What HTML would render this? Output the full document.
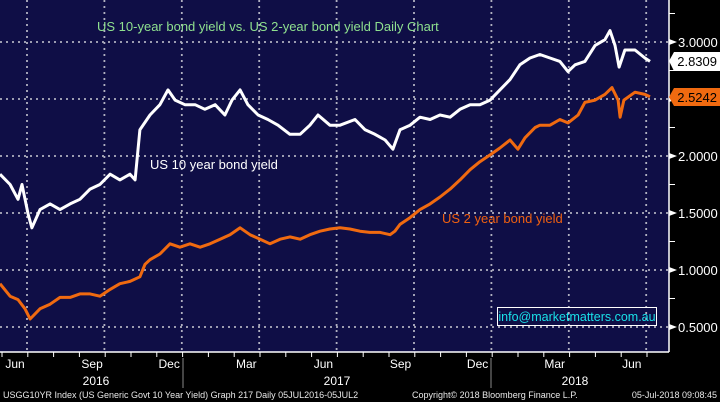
<!DOCTYPE html>
<html><head><meta charset="utf-8"><style>
html,body{margin:0;padding:0;background:#000;}
svg{display:block;font-family:"Liberation Sans",sans-serif;}
</style></head><body>
<svg id="chart" width="720" height="402" viewBox="0 0 720 402" xmlns="http://www.w3.org/2000/svg">
<rect x="0" y="0" width="720" height="402" fill="#000"/>
<rect x="0" y="0" width="669" height="352" fill="#0f0e46"/>
<g id="grid"></g>
<g id="series"></g>
<line x1="669" y1="0" x2="669" y2="352" stroke="#fff" stroke-width="1.5"/>
<line x1="0" y1="352" x2="669" y2="352" stroke="#fff" stroke-width="1.5"/>
<g id="axes"></g>
<text x="97" y="31" fill="#8fe08f" font-size="13">US 10-year bond yield vs. US 2-year bond yield Daily Chart</text>
<text x="150" y="169" fill="#fff" font-size="13">US 10 year bond yield</text>
<text x="442" y="223" fill="#f06010" font-size="13">US 2 year bond yield</text>
<g>
<rect x="497.5" y="307.5" width="159" height="18" fill="none" stroke="#fff" stroke-width="1"/>
<text x="577" y="321" text-anchor="middle" fill="#19e0e8" font-size="12.5">info@marketmatters.com.au</text>
</g>
<g>
<polygon points="669,61 674,52 720,52 720,71 674,71" fill="#fff"/>
<text x="717" y="66" text-anchor="end" fill="#000" font-size="13">2.8309</text>
</g>
<g>
<polygon points="669,97 674,88 720,88 720,106 674,106" fill="#f06a10"/>
<text x="717" y="102" text-anchor="end" fill="#000" font-size="13">2.5242</text>
</g>
<text x="3" y="398" fill="#e8e8e8" font-size="9">USGG10YR Index (US Generic Govt 10 Year Yield) Graph 217  Daily 05JUL2016-05JUL2</text>
<text x="412" y="398" fill="#e8e8e8" font-size="9">Copyright© 2018 Bloomberg Finance L.P.</text>
<text x="717" y="398" text-anchor="end" fill="#e8e8e8" font-size="9">05-Jul-2018 09:08:45</text>
</svg>
<script>
// months since mid-May 2016
const months10 = [0,.4,.71,.87,1.11,1.26,1.58,1.98,2.37,2.77,3.16,3.56,3.95,4.35,4.74,5.14,5.34,5.53,5.93,6.32,6.64,6.92,7.31,7.71,8.10,8.50,8.89,9.17,9.49,9.80,10.2,10.59,10.99,11.46,11.86,12.25,12.57,13.04,13.44,14.03,14.43,14.82,15.22,15.53,15.81,16.21,16.6,17.0,17.39,17.79,18.18,18.58,18.97,19.37,19.76,20.16,20.55,20.95,21.34,21.74,22.13,22.45,22.73,23.12,23.52,23.91,24.11,24.31,24.47,24.7,25.1,25.49,25.69];
const yield10 = [1.84,1.75,1.62,1.75,1.49,1.37,1.53,1.58,1.53,1.58,1.62,1.71,1.75,1.84,1.79,1.84,1.79,2.23,2.36,2.45,2.58,2.49,2.45,2.45,2.41,2.45,2.36,2.49,2.58,2.45,2.36,2.32,2.27,2.19,2.19,2.27,2.36,2.27,2.27,2.32,2.23,2.19,2.14,2.06,2.23,2.27,2.34,2.32,2.36,2.34,2.41,2.45,2.45,2.49,2.58,2.67,2.80,2.86,2.89,2.86,2.83,2.74,2.80,2.83,2.97,3.02,3.10,2.97,2.78,2.93,2.93,2.86,2.83];
const months2 = [0,.4,.71,.99,1.19,1.58,1.98,2.37,2.77,3.16,3.56,3.95,4.35,4.74,5.14,5.53,5.73,5.93,6.32,6.72,7.11,7.51,7.91,8.30,8.70,9.09,9.49,9.88,10.28,10.67,11.07,11.46,11.86,12.25,12.65,13.04,13.44,13.83,14.23,14.62,15.02,15.42,15.61,15.81,16.21,16.6,17.0,17.39,17.79,18.18,18.58,18.97,19.37,19.76,20.16,20.47,20.75,21.15,21.34,21.74,22.13,22.45,22.85,23.12,23.52,23.91,24.19,24.43,24.51,24.66,25.1,25.49,25.69];
const yield2 = [0.88,0.77,0.74,0.66,0.57,0.66,0.70,0.76,0.76,0.79,0.79,0.77,0.83,0.88,0.90,0.94,1.05,1.09,1.14,1.23,1.20,1.23,1.20,1.23,1.27,1.31,1.37,1.31,1.27,1.23,1.27,1.29,1.27,1.31,1.34,1.36,1.37,1.36,1.34,1.33,1.33,1.31,1.34,1.40,1.46,1.53,1.58,1.64,1.71,1.79,1.88,1.95,2.01,2.07,2.14,2.06,2.16,2.25,2.27,2.27,2.32,2.29,2.36,2.47,2.49,2.54,2.60,2.49,2.34,2.49,2.56,2.54,2.52];
const yTicks = [0.5,1.0,1.5,2.0,2.5,3.0];
const yMinor = [0.75,1.25,1.75,2.25,2.75,3.25];
const monthLabels = ["Jun","Sep","Dec","Mar","Jun","Sep","Dec","Mar","Jun"];
const yearLabels = ["2016","2017","2018"];

const NS="http://www.w3.org/2000/svg";
function xScale(m){return m*25.3;}
function yScale(v){return 327-(v-0.5)*114;}
function mk(tag,attrs,parent){const e=document.createElementNS(NS,tag);for(const k in attrs)e.setAttribute(k,attrs[k]);parent.appendChild(e);return e;}
const grid=document.getElementById('grid'), axes=document.getElementById('axes'), series=document.getElementById('series');

yTicks.forEach(v=>{
  const y=yScale(v);
  const g=mk('line',{x1:0,x2:669,y1:y,y2:y,stroke:'#b0b0c0','stroke-width':1.8,'stroke-dasharray':'2 4'},grid);
  
  
  const t=mk('polygon',{points:`669,${y-3} 677,${y} 669,${y+3}`,fill:'#fff'},axes);
  
  
  const tx=mk('text',{x:678,y:y+5,fill:'#fff','font-size':13},axes);
  tx.textContent=v.toFixed(4);
  
  
});
yMinor.forEach(v=>{
  const y=yScale(v);
  const t=mk('line',{x1:669,x2:675,y1:y,y2:y,stroke:'#fff','stroke-width':1},axes);
  
  
});
monthLabels.forEach((m,i)=>{
  const xg=27+i*77.4;
  const g=mk('line',{x1:xg,x2:xg,y1:0,y2:352,stroke:'#b0b0c0','stroke-width':1.8,'stroke-dasharray':'2 4'},grid);
  
  
  const xl=15+i*77.1;
  const t=mk('text',{x:xl,y:368,'text-anchor':'middle',fill:'#fff','font-size':12},axes);
  t.textContent=m;
  
  
});
for(let k=0;k<27;k++){
  const x=2+k*25.8;
  if(x>669)break;
  const t=mk('line',{x1:x,x2:x,y1:352,y2:357,stroke:'#fff','stroke-width':1},axes);
  
  
}
[183,491].forEach(x=>{
  const l=mk('line',{x1:x,x2:x,y1:358,y2:388,stroke:'#888','stroke-width':1},axes);
  
  
});
[96,337,575].forEach((x,i)=>{
  const t=mk('text',{x:x,y:385,'text-anchor':'middle',fill:'#fff','font-size':12},axes);
  t.textContent=yearLabels[i];
  
  
});
function line(ms,vs,color,name){
  const d=ms.map((m,i)=>(i?'L':'M')+xScale(m).toFixed(1)+','+yScale(vs[i]).toFixed(1)).join(' ');
  const p=mk('path',{d:d,fill:'none',stroke:color,'stroke-width':3,'stroke-linejoin':'round'},series);
  
  
}
line(months2,yield2,'#f06a10','line-2-year-yield');
line(months10,yield10,'#ffffff','line-10-year-yield');
</script>
</body></html>
